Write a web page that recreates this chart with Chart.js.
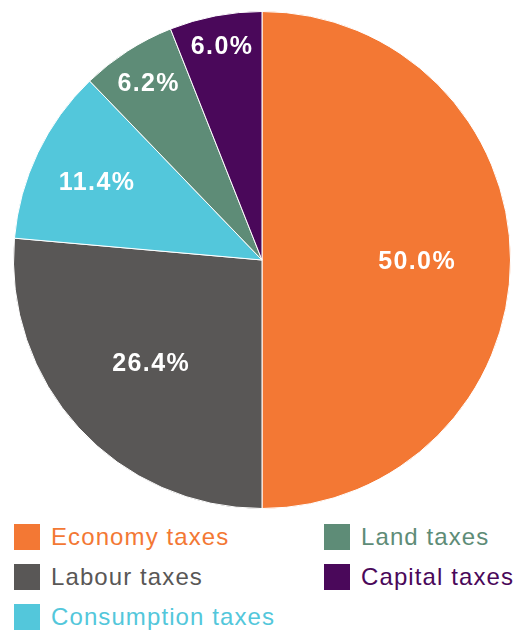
<!DOCTYPE html>
<html>
<head>
<meta charset="utf-8">
<script src="https://cdn.jsdelivr.net/npm/chart.js@4/dist/chart.umd.min.js"></script>
<style>
  html, body { margin: 0; padding: 0; background: #fff; width: 515px; height: 630px; overflow: hidden; }
  #wrap { position: absolute; left: 13px; top: 11px; width: 498px; height: 498px; }
  .legend { position: absolute; font-family: "Liberation Sans", Arial, sans-serif; font-size: 24px; letter-spacing: 1.1px; white-space: nowrap; }
  .item { position: absolute; height: 26px; line-height: 26px; }
  .sw { position: absolute; left: 0; top: 0; width: 26px; height: 26px; }
  .tx { position: absolute; left: 37px; top: 0px; }
</style>
</head>
<body>
<div id="wrap"><canvas id="c"></canvas></div>
<div id="legend"></div>
<script>
const categories = ["Economy taxes", "Labour taxes", "Consumption taxes", "Land taxes", "Capital taxes"];
const shares = [50.0, 26.4, 11.4, 6.2, 6.0];
const colors = ["#F37834", "#595756", "#53C7DB", "#5E8C77", "#4A085A"];

// label radial placement (fraction of radius) per slice — styling only
const labelRadius = [0.62, 0.61, 0.74, 0.85, 0.88];
// legend layout: [left, top] per item — styling only
const legendPos = [[14, 524], [14, 564], [14, 604], [324, 524], [324, 564]];

const labelPlugin = {
  id: 'sliceLabels',
  afterDatasetsDraw(chart) {
    const ctx = chart.ctx;
    const meta = chart.getDatasetMeta(0);
    ctx.save();
    ctx.font = 'bold 25px "Liberation Sans", Arial, sans-serif';
    if ('letterSpacing' in ctx) ctx.letterSpacing = '1.4px';
    ctx.fillStyle = '#ffffff';
    ctx.textAlign = 'center';
    ctx.textBaseline = 'middle';
    meta.data.forEach((arc, i) => {
      const p = arc.getProps(['x', 'y', 'startAngle', 'endAngle', 'outerRadius'], true);
      const mid = (p.startAngle + p.endAngle) / 2;
      const r = p.outerRadius * labelRadius[i];
      const x = p.x + Math.cos(mid) * r;
      const y = p.y + Math.sin(mid) * r;
      ctx.fillText(shares[i].toFixed(1) + '%', x + 1, y + 2);
    });
    ctx.restore();
  }
};

new Chart(document.getElementById('c'), {
  type: 'pie',
  data: {
    labels: categories,
    datasets: [{
      data: shares,
      backgroundColor: colors,
      borderColor: '#ffffff',
      borderWidth: 1,
      hoverOffset: 0
    }]
  },
  options: {
    responsive: true,
    maintainAspectRatio: false,
    animation: false,
    layout: { padding: 0 },
    plugins: { legend: { display: false }, tooltip: { enabled: false } }
  },
  plugins: [labelPlugin]
});

const lg = document.getElementById('legend');
lg.className = 'legend';
categories.forEach((name, i) => {
  const it = document.createElement('div');
  it.className = 'item';
  it.style.left = legendPos[i][0] + 'px';
  it.style.top = legendPos[i][1] + 'px';
  const sw = document.createElement('div');
  sw.className = 'sw';
  sw.style.background = colors[i];
  const tx = document.createElement('div');
  tx.className = 'tx';
  tx.style.color = colors[i];
  tx.textContent = name;
  it.appendChild(sw);
  it.appendChild(tx);
  lg.appendChild(it);
});
</script>
</body>
</html>
